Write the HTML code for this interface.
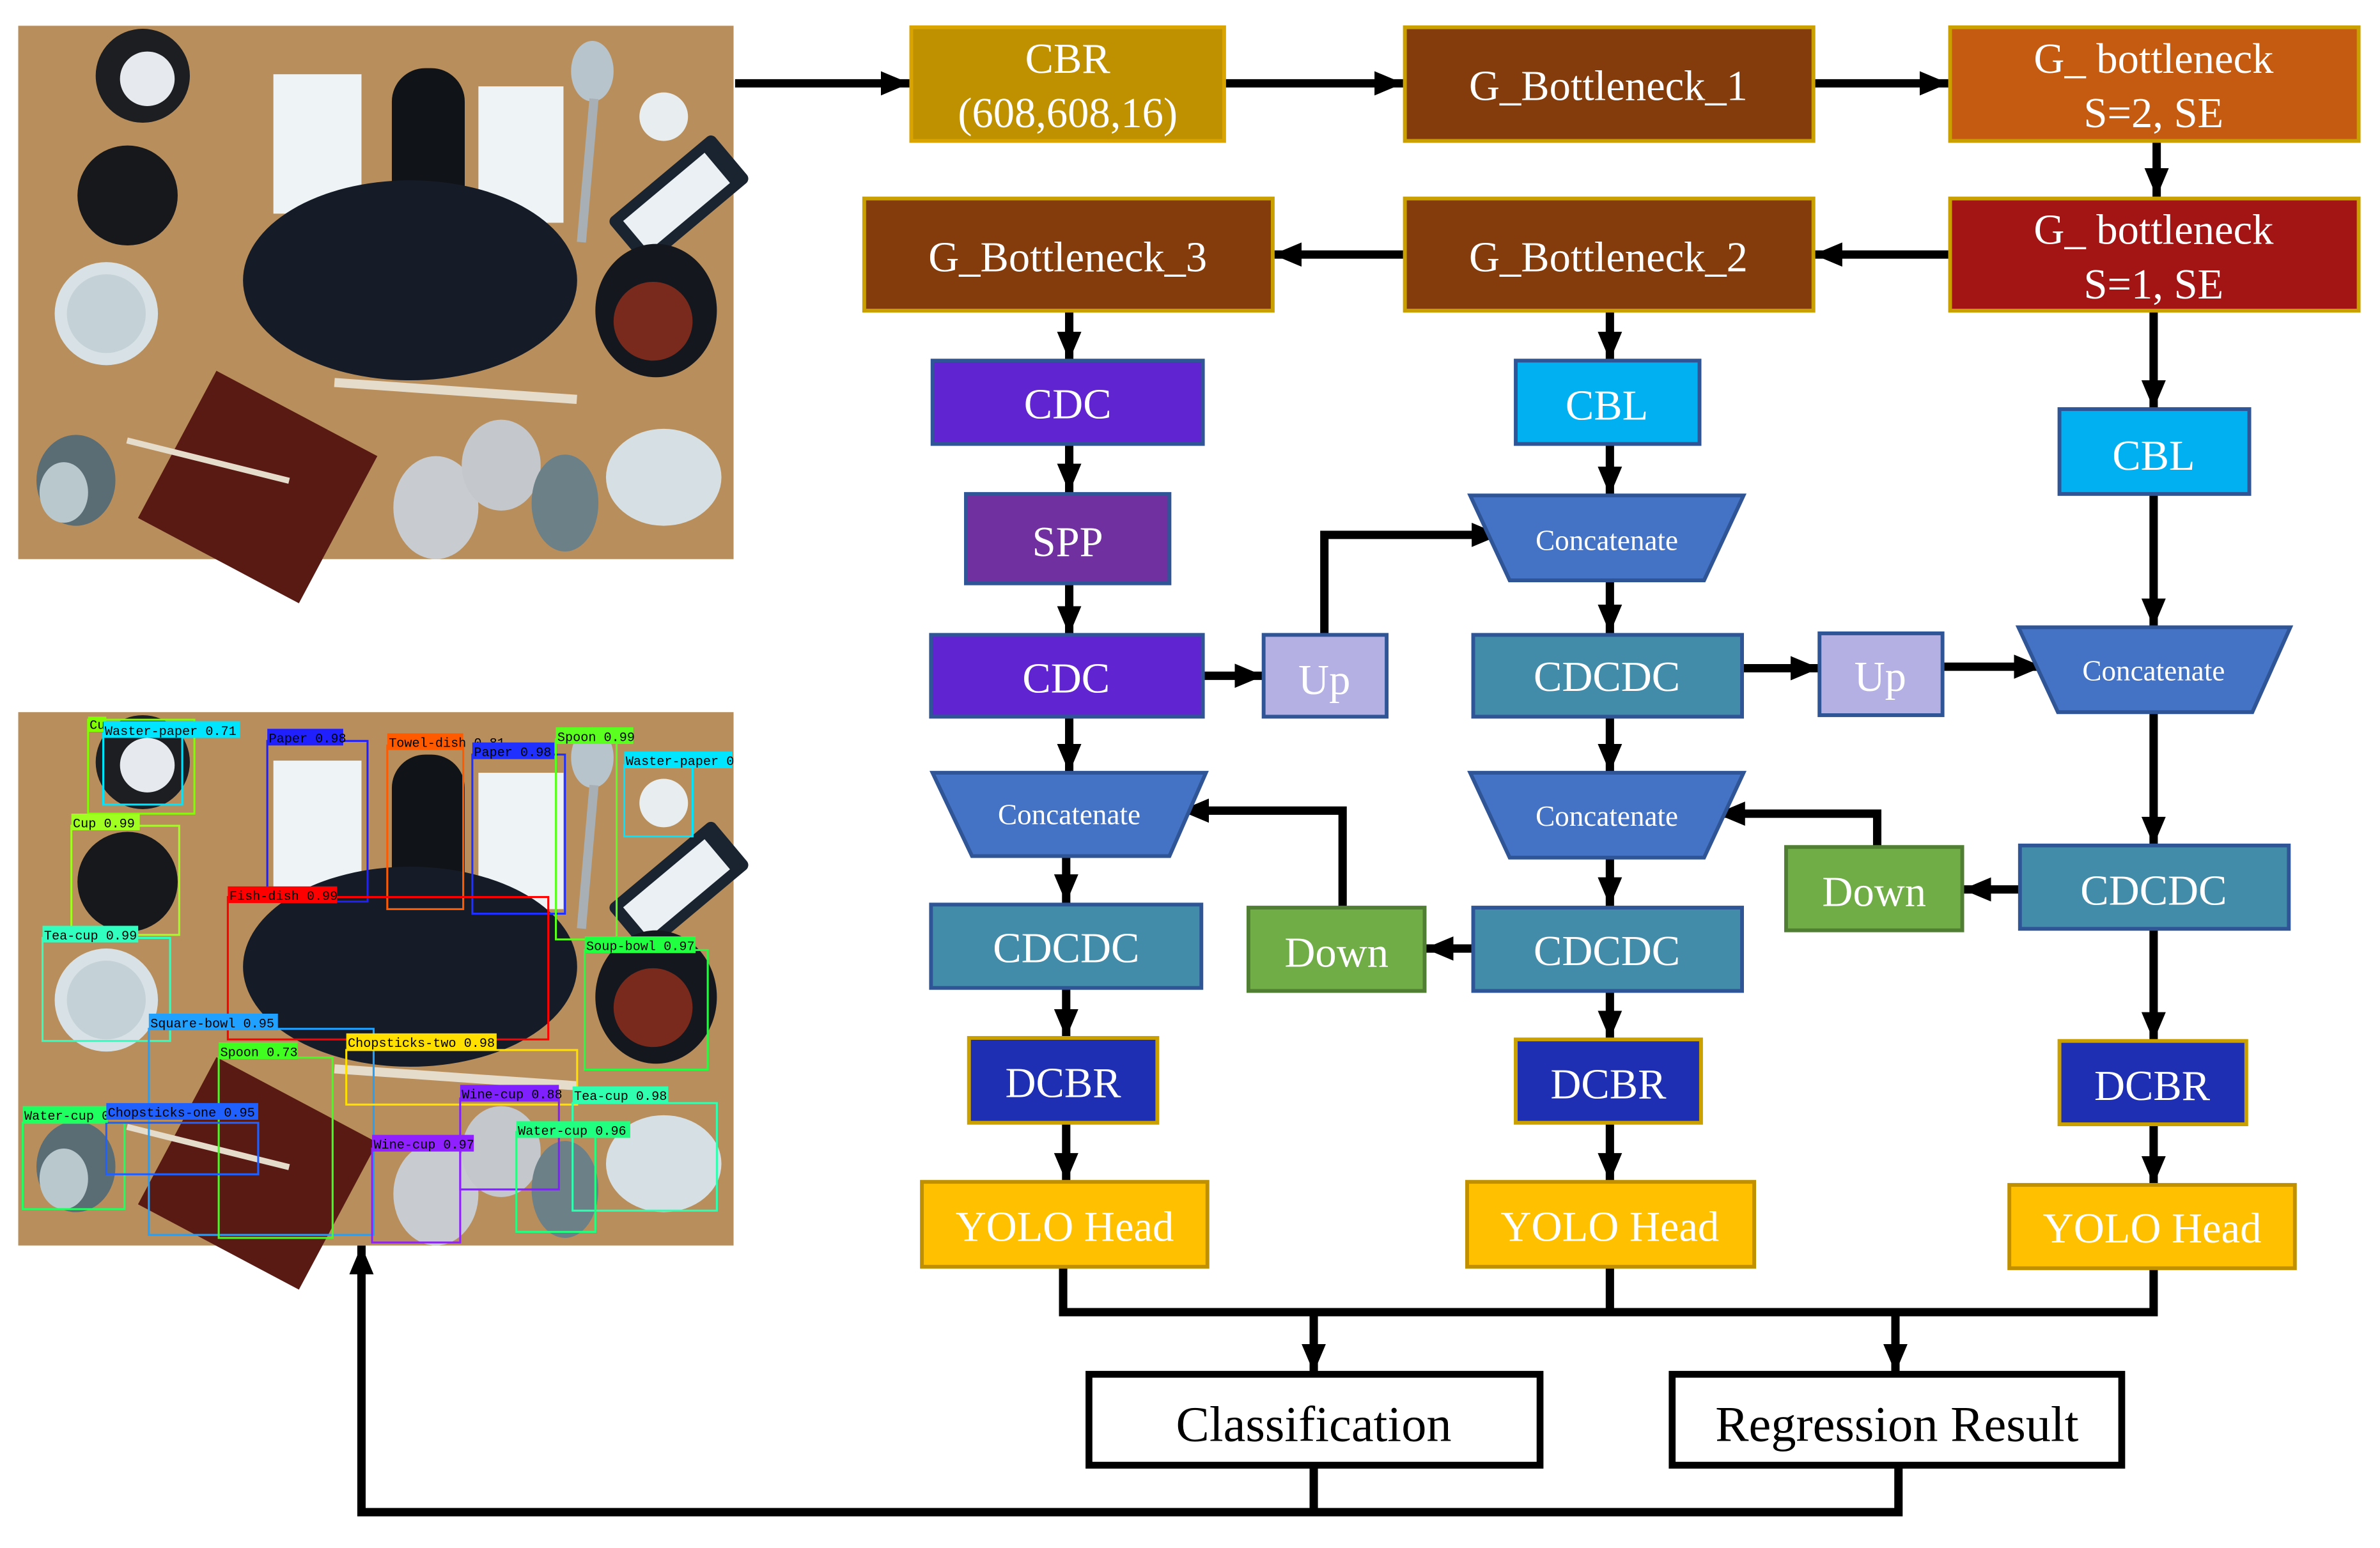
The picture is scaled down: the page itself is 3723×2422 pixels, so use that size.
<!DOCTYPE html>
<html><head><meta charset="utf-8"><style>
html,body{margin:0;padding:0;background:#fff;}
svg{display:block;}
.t{font-family:"Liberation Serif",serif;fill:#fff;text-anchor:middle;}
.b{font-family:"Liberation Serif",serif;fill:#000;text-anchor:middle;}
.l{font-family:"Liberation Mono",monospace;font-size:8.5px;fill:#000;}
.ln{stroke:#000;stroke-width:5.5;fill:none;}
</style></head><body>
<svg width="3723" height="2422" viewBox="0 0 1560 1015" preserveAspectRatio="none" xmlns="http://www.w3.org/2000/svg">
<defs>
<marker id="a" markerUnits="userSpaceOnUse" markerWidth="20" markerHeight="16" refX="19" refY="8" orient="auto">
<path d="M0,0 L19,8 L0,16 z" fill="#000"/></marker>
<g id="photo">
<rect x="0" y="0" width="471" height="352" fill="#b88f5c"/>
<circle cx="82" cy="33" r="31" fill="#1c1e22"/><circle cx="85" cy="35" r="18" fill="#e6eaee"/>
<circle cx="72" cy="112" r="33" fill="#16181c"/>
<circle cx="58" cy="190" r="34" fill="#d8e2e6"/><circle cx="58" cy="190" r="26" fill="#c4d2d8"/>
<rect x="168" y="32" width="58" height="92" fill="#eef3f6"/>
<rect x="246" y="28" width="48" height="120" rx="22" fill="#101418"/>
<rect x="303" y="40" width="56" height="90" fill="#eef3f6"/>
<ellipse cx="378" cy="30" rx="14" ry="20" fill="#b8c4cc"/><rect x="372" y="48" width="6" height="95" fill="#a8b0b6" transform="rotate(5 375 95)"/>
<circle cx="425" cy="60" r="16" fill="#e8eef0"/>
<rect x="390" y="95" width="90" height="40" rx="4" fill="#1a2430" transform="rotate(-40 435 115)"/>
<rect x="398" y="102" width="70" height="26" fill="#eaf0f4" transform="rotate(-40 435 115)"/>
<ellipse cx="258" cy="168" rx="110" ry="66" fill="#151c28"/>
<ellipse cx="420" cy="188" rx="40" ry="44" fill="#14181e"/><ellipse cx="418" cy="195" rx="26" ry="26" fill="#7a2a1c"/>
<rect x="100" y="250" width="120" height="110" fill="#5a1a14" transform="rotate(28 160 300)"/>
<rect x="208" y="238" width="160" height="6" fill="#e6dccc" transform="rotate(4 288 241)"/>
<rect x="70" y="285" width="110" height="4" fill="#e6dccc" transform="rotate(14 125 287)"/>
<ellipse cx="38" cy="300" rx="26" ry="30" fill="#5a6c74"/><ellipse cx="30" cy="308" rx="16" ry="20" fill="#b8c8cc"/>
<ellipse cx="275" cy="318" rx="28" ry="34" fill="#c8ccd0"/>
<ellipse cx="318" cy="290" rx="26" ry="30" fill="#c4c8cc"/>
<ellipse cx="360" cy="315" rx="22" ry="32" fill="#6c8088"/>
<ellipse cx="425" cy="298" rx="38" ry="32" fill="#d6e0e4"/>
</g>
</defs>
<rect width="1560" height="1015" fill="#fff"/>
<g transform="scale(0.9955,0.9935)">
<g transform="translate(12,17)"><use href="#photo"/></g>
<g transform="translate(12,470)"><use href="#photo"/></g>
<g fill="none" stroke-width="1.3">
<rect x="58" y="475" width="70" height="62" stroke="#7fff00"/>
<rect x="68" y="484" width="52" height="47" stroke="#00e5ff"/>
<rect x="176" y="489" width="66" height="106" stroke="#2020ff"/>
<rect x="255" y="492" width="50" height="108" stroke="#ff5a00"/>
<rect x="311" y="498" width="61" height="105" stroke="#2030ff"/>
<rect x="366" y="488" width="40" height="132" stroke="#5aff20"/>
<rect x="411" y="505" width="45" height="47" stroke="#00e5ff"/>
<rect x="47" y="545" width="71" height="72" stroke="#a0ff20"/>
<rect x="150" y="592" width="211" height="94" stroke="#ff0000"/>
<rect x="28" y="619" width="84" height="68" stroke="#30ffc0"/>
<rect x="385" y="627" width="81" height="79" stroke="#20ff40"/>
<rect x="98" y="679" width="148" height="136" stroke="#20a0ff"/>
<rect x="228" y="693" width="152" height="36" stroke="#ffe000"/>
<rect x="144" y="698" width="75" height="119" stroke="#40ff20"/>
<rect x="15" y="741" width="67" height="57" stroke="#20ff60"/>
<rect x="70" y="741" width="100" height="34" stroke="#2060ff"/>
<rect x="303" y="725" width="65" height="60" stroke="#8020ff"/>
<rect x="377" y="728" width="95" height="71" stroke="#30ffb0"/>
<rect x="245" y="758" width="58" height="62" stroke="#9020ff"/>
<rect x="340" y="747" width="52" height="66" stroke="#20ff80"/>
</g>
<g>
<rect x="58" y="473" width="12" height="10" fill="#7fff00"/><text class="l" x="59" y="481">Cu</text>
<rect x="68" y="476" width="90" height="11" fill="#00e5ff"/><text class="l" x="69" y="485">Waster-paper 0.71</text>
<rect x="176" y="481" width="50" height="11" fill="#2020ff"/><text class="l" x="177" y="490">Paper 0.98</text>
<rect x="255" y="484" width="50" height="11" fill="#ff5a00"/><text class="l" x="256" y="493">Towel-dish 0.81</text>
<rect x="311" y="490" width="54" height="11" fill="#2030ff"/><text class="l" x="312" y="499">Paper 0.98</text>
<rect x="366" y="480" width="51" height="11" fill="#5aff20"/><text class="l" x="367" y="489">Spoon 0.99</text>
<rect x="411" y="496" width="71" height="11" fill="#00e5ff"/><text class="l" x="412" y="505">Waster-paper 0</text>
<rect x="47" y="537" width="45" height="11" fill="#a0ff20"/><text class="l" x="48" y="546">Cup 0.99</text>
<rect x="150" y="585" width="72" height="11" fill="#ff0000"/><text class="l" x="151" y="594">Fish-dish 0.99</text>
<rect x="28" y="611" width="63" height="11" fill="#30ffc0"/><text class="l" x="29" y="620">Tea-cup 0.99</text>
<rect x="385" y="618" width="73" height="11" fill="#20ff40"/><text class="l" x="386" y="627">Soup-bowl 0.97</text>
<rect x="98" y="669" width="85" height="11" fill="#20a0ff"/><text class="l" x="99" y="678">Square-bowl 0.95</text>
<rect x="228" y="682" width="99" height="11" fill="#ffe000"/><text class="l" x="229" y="691">Chopsticks-two 0.98</text>
<rect x="144" y="688" width="52" height="11" fill="#40ff20"/><text class="l" x="145" y="697">Spoon 0.73</text>
<rect x="15" y="730" width="56" height="11" fill="#20ff60"/><text class="l" x="16" y="739">Water-cup 0</text>
<rect x="70" y="728" width="100" height="11" fill="#2060ff"/><text class="l" x="71" y="737">Chopsticks-one 0.95</text>
<rect x="303" y="716" width="65" height="11" fill="#8020ff"/><text class="l" x="304" y="725">Wine-cup 0.88</text>
<rect x="377" y="717" width="63" height="11" fill="#30ffb0"/><text class="l" x="378" y="726">Tea-cup 0.98</text>
<rect x="245" y="749" width="67" height="11" fill="#9020ff"/><text class="l" x="246" y="758">Wine-cup 0.97</text>
<rect x="340" y="740" width="75" height="11" fill="#20ff80"/><text class="l" x="341" y="749">Water-cup 0.96</text>
</g>

<g class="ln">
<path d="M484,55 H599" marker-end="url(#a)"/>
<path d="M806,55 H924" marker-end="url(#a)"/>
<path d="M1194,55 H1283" marker-end="url(#a)"/>
<path d="M1420,93 V130" marker-end="url(#a)"/>
<path d="M1283,168 H1194" marker-end="url(#a)"/>
<path d="M924,168 H838" marker-end="url(#a)"/>
<path d="M704,205 V238" marker-end="url(#a)"/>
<path d="M704,293 V325" marker-end="url(#a)"/>
<path d="M704,385 V419" marker-end="url(#a)"/>
<path d="M792,446 H832" marker-end="url(#a)"/>
<path d="M704,473 V510" marker-end="url(#a)"/>
<path d="M702,565 V596" marker-end="url(#a)"/>
<path d="M702,652 V685" marker-end="url(#a)"/>
<path d="M702,741 V780" marker-end="url(#a)"/>
<path d="M872,418 V353 H988" marker-end="url(#a)"/>
<path d="M884,598 V535 H777" marker-end="url(#a)"/>
<path d="M970,626 H938" marker-end="url(#a)"/>
<path d="M1060,205 V238" marker-end="url(#a)"/>
<path d="M1060,293 V327" marker-end="url(#a)"/>
<path d="M1060,383 V418" marker-end="url(#a)"/>
<path d="M1147,441 H1198" marker-end="url(#a)"/>
<path d="M1279,440 H1345" marker-end="url(#a)"/>
<path d="M1060,473 V510" marker-end="url(#a)"/>
<path d="M1060,566 V598" marker-end="url(#a)"/>
<path d="M1060,654 V686" marker-end="url(#a)"/>
<path d="M1060,741 V780" marker-end="url(#a)"/>
<path d="M1236,558 V537 H1130" marker-end="url(#a)"/>
<path d="M1330,587 H1292" marker-end="url(#a)"/>
<path d="M1418,205 V270" marker-end="url(#a)"/>
<path d="M1418,326 V414" marker-end="url(#a)"/>
<path d="M1418,470 V558" marker-end="url(#a)"/>
<path d="M1418,613 V687" marker-end="url(#a)"/>
<path d="M1418,742 V782" marker-end="url(#a)"/>
<path d="M700,836 V866 H1418 V837"/>
<path d="M1060,836 V866"/>
<path d="M865,866 V906" marker-end="url(#a)"/>
<path d="M1248,866 V906" marker-end="url(#a)"/>
<path d="M865,968 V998 H1250 V968"/>
<path d="M865,998 H238 V822" marker-end="url(#a)"/>
</g>

<g stroke-width="2.5">
<rect x="600" y="18" width="206" height="75" fill="#bf9000" stroke="#d9a400"/>
<rect x="925" y="18" width="269" height="75" fill="#843c0c" stroke="#c9a000"/>
<rect x="1284" y="18" width="269" height="75" fill="#c55a11" stroke="#c9a000"/>
<rect x="1284" y="131" width="269" height="74" fill="#a31515" stroke="#c9a000"/>
<rect x="925" y="131" width="269" height="74" fill="#843c0c" stroke="#c9a000"/>
<rect x="569" y="131" width="269" height="74" fill="#843c0c" stroke="#c9a000"/>
<rect x="614" y="238" width="178" height="55" fill="#6024d0" stroke="#2f5597"/>
<rect x="636" y="326" width="134" height="59" fill="#7030a0" stroke="#2f5597"/>
<rect x="613" y="419" width="179" height="54" fill="#6024d0" stroke="#2f5597"/>
<rect x="832" y="419" width="81" height="54" fill="#b4b0e4" stroke="#2f5597"/>
<rect x="613" y="597" width="178" height="55" fill="#438ca9" stroke="#2f5597"/>
<rect x="822" y="599" width="116" height="55" fill="#70ad47" stroke="#507e32"/>
<rect x="638" y="685" width="124" height="56" fill="#1f2fb4" stroke="#c9a000"/>
<rect x="607" y="780" width="188" height="56" fill="#ffc000" stroke="#c09000"/>
<rect x="998" y="238" width="121" height="55" fill="#00b0f0" stroke="#2f5597"/>
<rect x="970" y="419" width="177" height="54" fill="#438ca9" stroke="#2f5597"/>
<rect x="1198" y="418" width="81" height="54" fill="#b4b0e4" stroke="#2f5597"/>
<rect x="1176" y="559" width="116" height="55" fill="#70ad47" stroke="#507e32"/>
<rect x="970" y="599" width="177" height="55" fill="#438ca9" stroke="#2f5597"/>
<rect x="998" y="686" width="122" height="55" fill="#1f2fb4" stroke="#c9a000"/>
<rect x="966" y="780" width="189" height="56" fill="#ffc000" stroke="#c09000"/>
<rect x="1356" y="270" width="125" height="56" fill="#00b0f0" stroke="#2f5597"/>
<rect x="1330" y="558" width="177" height="55" fill="#438ca9" stroke="#2f5597"/>
<rect x="1356" y="687" width="123" height="55" fill="#1f2fb4" stroke="#c9a000"/>
<rect x="1323" y="782" width="188" height="55" fill="#ffc000" stroke="#c09000"/>
<polygon points="614,510 794,510 770,565 640,565" fill="#4472c4" stroke="#2f5597"/>
<polygon points="968,327 1148,327 1122,383 994,383" fill="#4472c4" stroke="#2f5597"/>
<polygon points="968,510 1148,510 1122,566 994,566" fill="#4472c4" stroke="#2f5597"/>
<polygon points="1329,414 1508,414 1483,470 1355,470" fill="#4472c4" stroke="#2f5597"/>
</g>
<rect x="717" y="907" width="297" height="60" fill="#fff" stroke="#000" stroke-width="4.5"/>
<rect x="1101" y="907" width="296" height="60" fill="#fff" stroke="#000" stroke-width="4.5"/>

<g class="t" font-size="28">
<text x="703" y="48">CBR</text>
<text x="703" y="84">(608,608,16)</text>
<text x="1059" y="66">G_Bottleneck_1</text>
<text x="1418" y="48">G_ bottleneck</text>
<text x="1418" y="84">S=2, SE</text>
<text x="1418" y="161">G_ bottleneck</text>
<text x="1418" y="197">S=1, SE</text>
<text x="1059" y="179">G_Bottleneck_2</text>
<text x="703" y="179">G_Bottleneck_3</text>
<text x="703" y="276">CDC</text>
<text x="703" y="367">SPP</text>
<text x="702" y="457">CDC</text>
<text x="872" y="458">Up</text>
<text x="702" y="635">CDCDC</text>
<text x="880" y="638">Down</text>
<text x="700" y="724">DCBR</text>
<text x="701" y="819">YOLO Head</text>
<text x="1058" y="277">CBL</text>
<text x="1058" y="456">CDCDC</text>
<text x="1238" y="456">Up</text>
<text x="1234" y="598">Down</text>
<text x="1058" y="637">CDCDC</text>
<text x="1059" y="725">DCBR</text>
<text x="1060" y="819">YOLO Head</text>
<text x="1418" y="310">CBL</text>
<text x="1418" y="597">CDCDC</text>
<text x="1417" y="726">DCBR</text>
<text x="1417" y="820">YOLO Head</text>
</g>
<g class="t" font-size="19">
<text x="704" y="544">Concatenate</text>
<text x="1058" y="363">Concatenate</text>
<text x="1058" y="545">Concatenate</text>
<text x="1418" y="449">Concatenate</text>
</g>
<g class="b" font-size="33">
<text x="865" y="951">Classification</text>
<text x="1249" y="951">Regression Result</text>
</g>
</g>
</svg>
</body></html>
